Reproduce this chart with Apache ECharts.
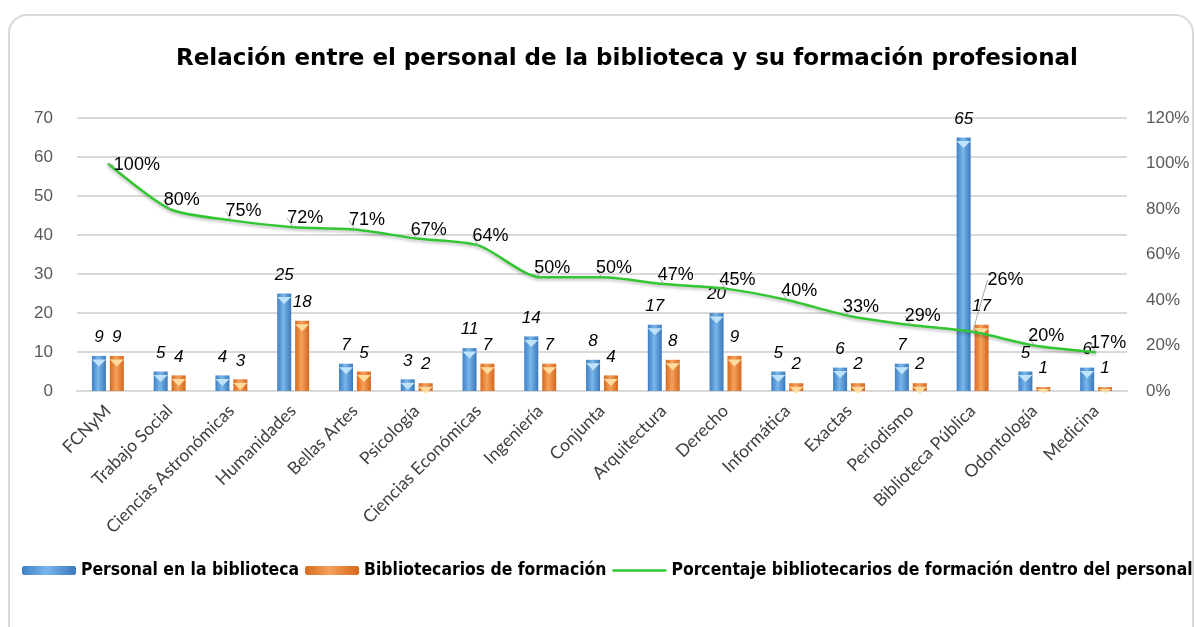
<!DOCTYPE html>
<html>
<head>
<meta charset="utf-8">
<script src="https://cdn.jsdelivr.net/npm/echarts@6/dist/echarts.min.js"></script>
<style>
  html, body { margin: 0; padding: 0; background: #fff; }
  #main { width: 1195px; height: 627px; }
</style>
</head>
<body>
<div id="main"></div>
<script>
// datos
var categorias = ['FCNyM', 'Trabajo Social', 'Ciencias Astronómicas', 'Humanidades', 'Bellas Artes',
  'Psicología', 'Ciencias Económicas', 'Ingeniería', 'Conjunta', 'Arquitectura', 'Derecho',
  'Informática', 'Exactas', 'Periodismo', 'Biblioteca Pública', 'Odontología', 'Medicina'];
var personal = [9, 5, 4, 25, 7, 3, 11, 14, 8, 17, 20, 5, 6, 7, 65, 5, 6];
var bibliotecarios = [9, 4, 3, 18, 5, 2, 7, 7, 4, 8, 9, 2, 2, 2, 17, 1, 1];
var porcentaje = [100, 80, 75, 72, 71, 67, 64, 50, 50, 47, 45, 40, 33, 29, 26, 20, 17];
var ticksIzq = [0, 10, 20, 30, 40, 50, 60, 70];
var ticksDer = [0, 20, 40, 60, 80, 100, 120];

var myChart = echarts.init(document.getElementById('main'));

var gradAzul = new echarts.graphic.LinearGradient(0, 0, 1, 0, [
  { offset: 0, color: '#3f7fc6' },
  { offset: 0.45, color: '#79b6ea' },
  { offset: 1, color: '#3a78bd' }
]);
var gradNaranja = new echarts.graphic.LinearGradient(0, 0, 1, 0, [
  { offset: 0, color: '#d86b1f' },
  { offset: 0.45, color: '#f4a15c' },
  { offset: 1, color: '#d5671c' }
]);

var etiquetaBarra = {
  show: true,
  position: 'top',
  distance: 10,
  fontFamily: 'Liberation Sans',
  fontStyle: 'italic',
  fontSize: 17,
  color: '#000'
};

// tapa triangular clara arriba de cada barra (no más alta que la barra)
function tapas(valores) {
  return valores.map(function (v) {
    return { value: v, symbolSize: [14, Math.min(7, v * 3.9)] };
  });
}

var option = {
  animation: false,
  backgroundColor: '#fff',
  graphic: [{
    type: 'rect',
    shape: { x: 9, y: 15, width: 1184, height: 700, r: 18 },
    style: { fill: 'none', stroke: '#d9d9d9', lineWidth: 2 },
    z: -1
  }],
  title: {
    text: 'Relación entre el personal de la biblioteca y su formación profesional',
    left: 622,
    textAlign: 'center',
    top: 43,
    textStyle: { fontFamily: 'DejaVu Sans', fontWeight: 'bold', fontSize: 23, color: '#000' }
  },
  legend: {
    left: 17,
    top: 557,
    width: 1178,
    itemWidth: 54,
    itemHeight: 9,
    itemGap: 6,
    textStyle: { fontFamily: 'DejaVu Sans Condensed', fontWeight: 'bold', fontSize: 17.4, color: '#000' },
    data: [
      'Personal en la biblioteca',
      'Bibliotecarios de formación',
      { name: 'Porcentaje bibliotecarios de formación dentro del personal', icon: 'path://M0,0 L40,0 L40,2 L0,2 Z' }
    ]
  },
  grid: { left: 77, right: 68, top: 118, bottom: 236 },
  xAxis: {
    type: 'category',
    data: categorias,
    axisTick: { show: false },
    axisLine: { lineStyle: { color: '#d9d9d9', width: 2 } },
    axisLabel: {
      rotate: 45,
      interval: 0,
      margin: 17,
      fontFamily: 'Lato',
      fontSize: 17.5,
      color: '#404040'
    }
  },
  yAxis: [{
    type: 'value',
    min: ticksIzq[0],
    max: ticksIzq[ticksIzq.length - 1],
    interval: 10,
    axisLabel: { margin: 24, fontFamily: 'Liberation Sans', fontSize: 17, color: '#595959' },
    splitLine: { lineStyle: { color: '#d9d9d9', width: 2 } },
    axisLine: { show: false },
    axisTick: { show: false }
  }, {
    type: 'value',
    min: ticksDer[0],
    max: ticksDer[ticksDer.length - 1],
    interval: 20,
    axisLabel: { margin: 19, fontFamily: 'Liberation Sans', fontSize: 17, color: '#595959', formatter: '{value}%' },
    splitLine: { show: false },
    axisLine: { show: false },
    axisTick: { show: false }
  }],
  series: [{
    name: 'Personal en la biblioteca',
    type: 'bar',
    data: personal,
    barWidth: 14,
    barGap: '28%',
    itemStyle: { color: gradAzul },
    label: etiquetaBarra
  }, {
    name: 'Bibliotecarios de formación',
    type: 'bar',
    data: bibliotecarios,
    barWidth: 14,
    barGap: '28%',
    itemStyle: { color: gradNaranja },
    label: etiquetaBarra
  }, {
    name: 'tapaAzul',
    type: 'pictorialBar',
    data: tapas(personal),
    barWidth: 14,
    barGap: '28%',
    symbol: 'triangle',
    symbolRotate: 180,
    symbolPosition: 'end',
    symbolOffset: [0, '50%'],
    itemStyle: { color: '#bfe3f8' },
    silent: true,
    z: 3
  }, {
    name: 'tapaNaranja',
    type: 'pictorialBar',
    data: tapas(bibliotecarios),
    barWidth: 14,
    barGap: '28%',
    symbol: 'triangle',
    symbolRotate: 180,
    symbolPosition: 'end',
    symbolOffset: [0, '50%'],
    itemStyle: { color: '#ffdc9e' },
    silent: true,
    z: 3
  }, {
    name: 'Porcentaje bibliotecarios de formación dentro del personal',
    type: 'line',
    yAxisIndex: 1,
    data: porcentaje,
    smooth: 0.25,
    symbol: 'circle',
    symbolSize: 0.1,
    showSymbol: true,
    showAllSymbol: true,
    z: 4,
    lineStyle: { color: '#33c633', width: 2.5, shadowColor: 'rgba(0,0,0,0.25)', shadowBlur: 3, shadowOffsetY: 2 },
    itemStyle: { color: '#33c633' },
    label: {
      show: true,
      position: 'inside',
      fontFamily: 'Liberation Sans',
      fontSize: 18,
      color: '#000',
      formatter: '{c}%'
    },
    labelLine: { show: true, lineStyle: { color: '#a6a6a6', width: 1 } },
    labelLayout: function (p) {
      if (p.dataIndex === 0) {
        return { dx: 29, dy: 2 };
      }
      if (p.dataIndex === 14) {
        return { dx: 33, dy: -52 };
      }
      return { dx: 12, dy: -9 };
    }
  }]
};

myChart.setOption(option);
</script>
</body>
</html>
